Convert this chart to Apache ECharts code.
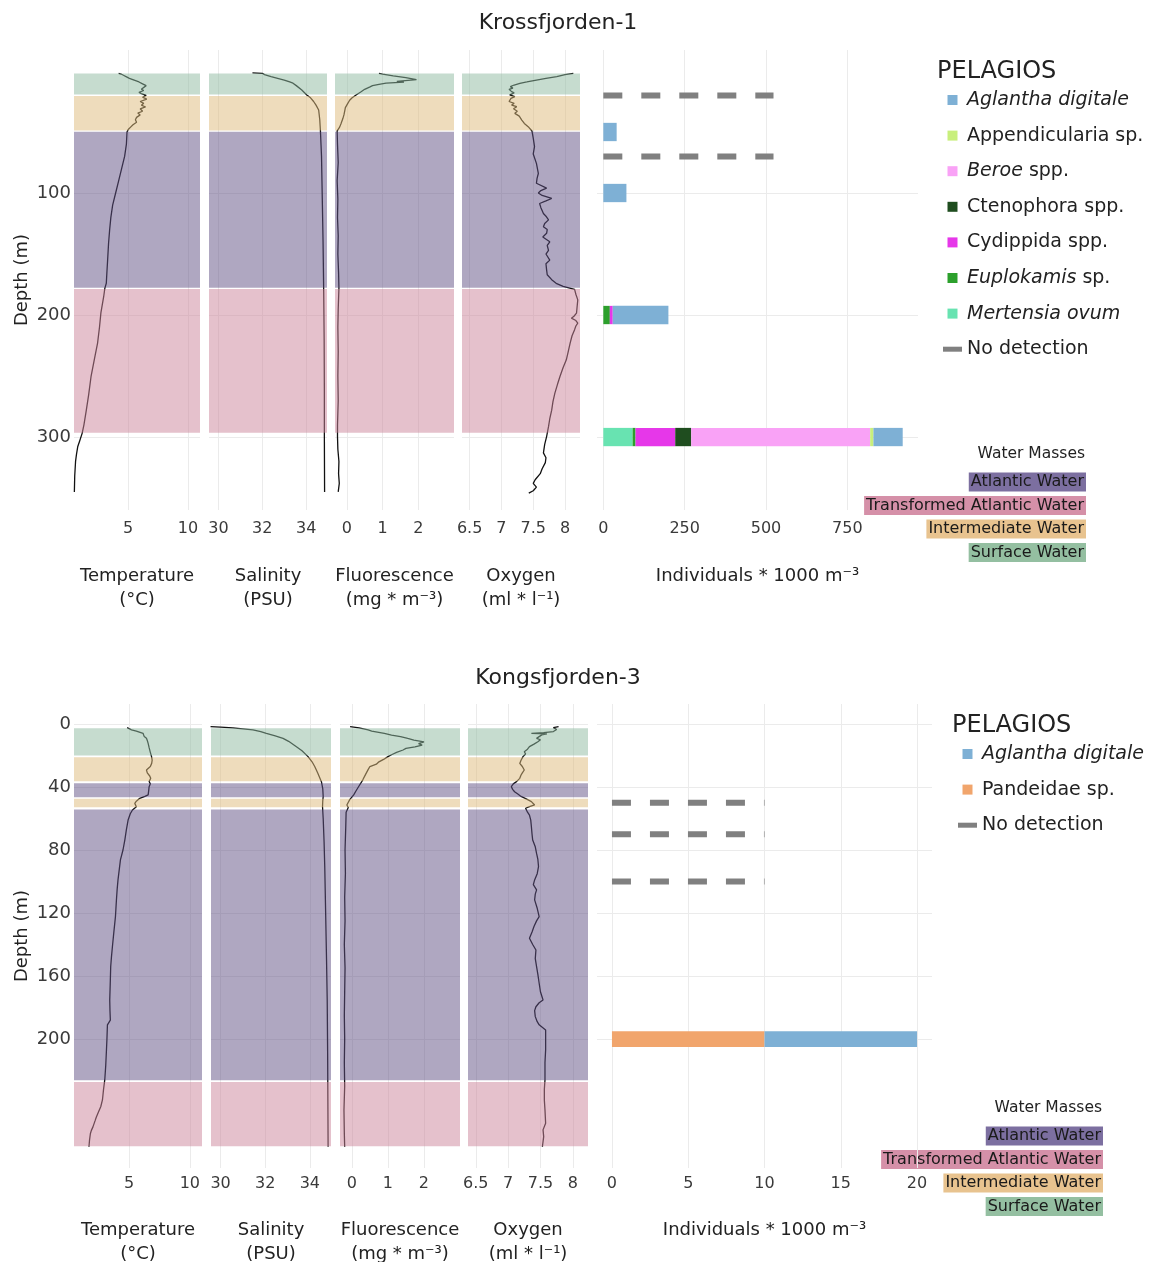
<!DOCTYPE html>
<html><head><meta charset="utf-8">
<script src="https://cdn.jsdelivr.net/npm/echarts@6.0.0/dist/echarts.min.js"></script>
<style>html,body{margin:0;padding:0;background:#fff}#c{width:1150px;height:1262px}</style>
</head><body><div id="c"></div>
<script>
// ---------------- DATA ----------------
// Profiles: [depth (m), value]
const krossTemp = [[1.9,4.2],[2.5,4.4],[3.5,4.6],[5,4.9],[6,5.1],[7.5,5.5],[9,5.9],[10.5,6.2],[12,6.5],[13.5,6.4],[15,6.1],[16,6.3],[17.5,5.9],[18.5,6.1],[20,6.5],[21.5,6.2],[23,6.55],[25,6.0],[26.5,6.3],[28,6.1],[29.5,6.45],[31,6.0],[33,6.2],[34.5,5.8],[36,6.0],[38,5.7],[40,5.6],[42,5.7],[44,5.4],[46,5.2],[48,5.0],[50,4.9],[60,4.85],[70,4.7],[80,4.45],[90,4.2],[100,3.95],[110,3.7],[120,3.55],[130,3.45],[141,3.36],[155,3.28],[165,3.22],[174,3.17],[178,3.05],[185,2.95],[198,2.72],[210,2.6],[223,2.44],[235,2.2],[250,1.9],[265,1.7],[278,1.5],[290,1.3],[297,1.15],[303,0.95],[308,0.78],[314,0.68],[320,0.6],[332,0.53],[345,0.5]];
const krossSal = [[1.6,31.55],[1.9,32.0],[3,32.1],[4.6,32.4],[6,32.7],[7.4,33.0],[9,33.25],[10,33.4],[12,33.55],[15.6,33.8],[17,33.85],[19.7,34.03],[22,34.2],[25,34.34],[28,34.45],[32,34.57],[40,34.62],[49,34.65],[70,34.7],[100,34.73],[140,34.77],[182,34.8],[220,34.82],[264,34.83],[300,34.83],[345,34.84]];
const krossFluor = [[1.9,0.9],[2.5,1.0],[4,1.3],[5.5,1.65],[7,1.95],[7.8,1.9],[8.5,1.4],[9.2,1.6],[10,1.1],[11,0.9],[12,0.72],[13,0.65],[15,0.5],[17,0.4],[19.7,0.26],[22,0.15],[24,0.08],[27,0.02],[30,-0.04],[33,-0.06],[36,-0.08],[39,-0.11],[43,-0.16],[46,-0.2],[49,-0.27],[60,-0.26],[75,-0.24],[90,-0.27],[105,-0.25],[120,-0.26],[135,-0.24],[150,-0.25],[165,-0.23],[178,-0.22],[195,-0.24],[210,-0.25],[230,-0.24],[250,-0.25],[270,-0.24],[290,-0.26],[300,-0.26],[310,-0.25],[320,-0.22],[330,-0.23],[338,-0.21],[345,-0.24]];
const krossOxy = [[1.9,8.13],[3,8.0],[4.6,7.87],[6,7.7],[7.4,7.55],[9,7.4],[10.1,7.29],[11.5,7.2],[12.8,7.14],[14,7.18],[15,7.12],[16.9,7.16],[18,7.2],[19.5,7.13],[21,7.21],[22.5,7.15],[23.8,7.18],[25,7.12],[26.5,7.2],[28,7.16],[29.3,7.24],[31,7.19],[33,7.25],[34.7,7.21],[37,7.28],[40.2,7.32],[43,7.36],[45.6,7.42],[49.2,7.48],[55,7.5],[62,7.52],[68,7.5],[75.7,7.55],[84,7.58],[88,7.56],[92,7.55],[96,7.71],[98,7.62],[100,7.58],[102,7.64],[104.5,7.79],[106.5,7.7],[108.6,7.6],[112,7.62],[116.8,7.66],[119,7.7],[122,7.74],[125,7.68],[127.6,7.66],[130,7.72],[133,7.71],[136,7.65],[140,7.76],[143,7.72],[147,7.74],[150,7.7],[155,7.76],[158,7.7],[163,7.71],[167,7.72],[171,7.79],[174,7.86],[176.6,7.97],[179,8.15],[183,8.17],[187.6,8.2],[193,8.19],[198.5,8.18],[201,8.14],[202.6,8.1],[204.5,8.17],[206.7,8.2],[209,8.17],[212,8.15],[217,8.11],[223,8.08],[230,8.05],[236.7,8.02],[243,7.97],[250.4,7.92],[257,7.88],[264,7.84],[271,7.81],[278,7.79],[285,7.76],[291.5,7.74],[299.6,7.71],[306,7.68],[313,7.66],[317,7.7],[321,7.69],[326,7.64],[330,7.61],[335,7.53],[338,7.5],[339.5,7.47],[341,7.55],[342.5,7.58],[344,7.5],[346,7.43]];

const kongsTemp = [[2.3,4.84],[3,4.9],[3.7,5.2],[4.5,5.6],[5.9,6.15],[7,6.3],[8,6.25],[9.1,6.43],[10.5,6.5],[12.3,6.57],[15,6.65],[18,6.75],[20.7,6.85],[23,6.9],[25,6.86],[27,6.75],[29.2,6.43],[31,6.5],[33,6.7],[34.5,6.78],[36.5,6.65],[38,6.75],[39.8,6.65],[42,6.62],[45,6.57],[46,6.3],[47.2,5.88],[49,5.6],[50.4,5.47],[51.5,5.55],[52.5,5.6],[54.6,5.28],[57,5.1],[61,4.92],[67,4.78],[73.7,4.65],[80,4.5],[86.3,4.29],[92,4.2],[99,4.09],[105,4.02],[111.7,3.96],[117,3.92],[122.3,3.88],[132,3.75],[141.4,3.63],[148,3.55],[154,3.49],[165,3.45],[175.2,3.41],[182,3.43],[188,3.46],[191,3.22],[200,3.18],[207,3.14],[217,3.08],[226,3.0],[232,2.9],[238.7,2.81],[243,2.67],[246,2.5],[249.5,2.31],[252,2.2],[255.8,2.03],[258,1.9],[260,1.82],[264,1.75],[268.4,1.7]];
const kongsSal = [[1.7,29.55],[2.0,30.0],[2.5,30.55],[3.7,31.45],[4.8,31.8],[5.9,32.05],[7.5,32.45],[9.1,32.8],[11,33.05],[14.4,33.4],[17,33.65],[20.7,33.92],[24,34.1],[27,34.22],[31,34.35],[36.6,34.52],[41,34.58],[46,34.6],[49,34.58],[52.5,34.57],[60,34.6],[75,34.64],[90.5,34.67],[120,34.71],[150,34.75],[175,34.78],[210,34.8],[240,34.81],[268.4,34.82]];
const kongsFluor = [[1.7,-0.05],[2.5,0.2],[3.8,0.45],[4.5,0.55],[6,0.9],[7,1.1],[8,1.35],[9.2,1.55],[10.2,1.72],[11.3,2.0],[12.5,1.85],[13.4,1.95],[14.5,1.75],[15.5,1.5],[16.5,1.42],[18,1.24],[19.5,1.1],[20.7,1.0],[22.5,0.88],[24,0.75],[25.5,0.68],[27,0.5],[29,0.45],[32,0.38],[35.6,0.3],[40,0.18],[43,0.1],[45,0.05],[48,-0.06],[51.4,-0.14],[53,-0.1],[56,-0.16],[65,-0.17],[80,-0.19],[95,-0.18],[110,-0.2],[125,-0.19],[140,-0.21],[155,-0.19],[170,-0.2],[185,-0.21],[200,-0.2],[215,-0.21],[230,-0.2],[245,-0.22],[260,-0.21],[268.4,-0.2]];
const kongsOxy = [[1.7,7.78],[2.3,7.7],[2.7,7.67],[3.5,7.75],[4.8,7.7],[5.5,7.55],[5.9,7.36],[6.3,7.6],[6.9,7.52],[8,7.5],[9.1,7.44],[10,7.5],[11.3,7.46],[12.8,7.4],[14.4,7.33],[16,7.3],[17.6,7.25],[19,7.27],[20.7,7.23],[23,7.2],[25,7.18],[27,7.22],[29.2,7.25],[31,7.22],[32.4,7.2],[34.5,7.18],[36.6,7.13],[38,7.08],[39.8,7.05],[41.5,7.07],[43,7.1],[44.5,7.15],[46,7.2],[47.5,7.28],[49.3,7.36],[51.4,7.41],[52.5,7.33],[53.5,7.27],[54.6,7.25],[56,7.3],[57.8,7.33],[61,7.35],[65.2,7.36],[70,7.37],[73.7,7.38],[78,7.42],[82.2,7.44],[86,7.46],[90.5,7.47],[95,7.45],[99,7.41],[102,7.39],[105.3,7.44],[108,7.42],[111.7,7.41],[117,7.45],[122.3,7.48],[125,7.44],[128.6,7.4],[132,7.37],[136,7.33],[140,7.38],[143.5,7.43],[149,7.42],[154,7.44],[159,7.46],[164.6,7.48],[170,7.5],[175.2,7.54],[177,7.48],[179.5,7.43],[182,7.41],[185.8,7.42],[189,7.45],[191,7.48],[194.3,7.58],[200,7.58],[207,7.58],[215,7.57],[226,7.57],[232,7.56],[238.7,7.56],[245,7.57],[253.5,7.58],[257.7,7.54],[262,7.55],[268.4,7.53]];

// Water mass layers: start depth, end depth, type
const waterMassNames = ['Atlantic Water','Transformed Atlantic Water','Intermediate Water','Surface Water'];
const krossBandStart = [1.6, 20, 49.3, 178.3];
const krossBandEnd   = [19.7, 49.2, 178, 297];
const krossBandType  = ['Surface Water','Intermediate Water','Atlantic Water','Transformed Atlantic Water'];
const kongsBandStart = [2.3, 20.8, 37.3, 47.2, 54, 227];
const kongsBandEnd   = [20.3, 36.6, 46.8, 53.1, 226.5, 268.4];
const kongsBandType  = ['Surface Water','Intermediate Water','Atlantic Water','Intermediate Water','Atlantic Water','Transformed Atlantic Water'];

// Gelatinous zooplankton (Individuals * 1000 m^-3)
const krossSpecies = ['Aglantha digitale','Appendicularia sp.','Beroe spp.','Ctenophora spp.','Cydippida spp.','Euplokamis sp.','Mertensia ovum'];
const krossDepths = [50, 100, 200, 300];
const krossAglantha = [41, 71, 171, 90];
const krossAppendicularia = [0, 0, 0, 10];
const krossBeroe = [0, 0, 0, 550];
const krossCtenophora = [0, 0, 0, 49];
const krossCydippida = [0, 0, 9, 122];
const krossEuplokamis = [0, 0, 20, 9];
const krossMertensia = [0, 0, 0, 90];
const krossNoDetectionDepths = [20, 70];
const krossNoDetectionExtent = 523;

const kongsSpecies = ['Aglantha digitale','Pandeidae sp.'];
const kongsDepths = [200];
const kongsAglantha = [10];
const kongsPandeidae = [10];
const kongsNoDetectionDepths = [50, 70, 100];
const kongsNoDetectionExtent = 10;

// Tick labels
const krossDepthTicks = [100, 200, 300];
const kongsDepthTicks = [0, 40, 80, 120, 160, 200];
const tempTicks = [5, 10];
const salTicks = [30, 32, 34];
const fluorTicks = [0, 1, 2];
const oxyTicks = [6.5, 7, 7.5, 8];
const krossCountTicks = [0, 250, 500, 750];
const kongsCountTicks = [0, 5, 10, 15, 20];

// ---------------- STYLE / LAYOUT ----------------
const FONT = '"DejaVu Sans", Verdana, sans-serif';
const GRID_COLOR = '#ebebeb';
const NO_DET = 'No detection';
const SPECIES_COLORS = {
  'Aglantha digitale':'#7eb0d5','Appendicularia sp.':'#c8ef7c','Beroe spp.':'#f9a2f6',
  'Ctenophora spp.':'#1f4d1f','Cydippida spp.':'#e637e9','Euplokamis sp.':'#2ca02c',
  'Mertensia ovum':'#68e3b1','Pandeidae sp.':'#f1a56c'
};
const BAND_COLORS = {'Surface Water':'#8db99f','Intermediate Water':'#ddb979','Atlantic Water':'#5f4f83','Transformed Atlantic Water':'#cb8399'};
const KEY_COLORS = {'Surface Water':'#94bfa1','Intermediate Water':'#e8c38f','Atlantic Water':'#7c6fa0','Transformed Atlantic Water':'#d590a8'};
const ITALIC_PART = {'Aglantha digitale':'Aglantha digitale','Beroe spp.':'Beroe','Euplokamis sp.':'Euplokamis','Mertensia ovum':'Mertensia ovum'};
const X_RANGES = [[0.47, 11.0],[29.57, 34.95],[-0.33, 3.0],[6.38, 8.235]];
const X_TICKS = [tempTicks, salTicks, fluorTicks, oxyTicks];
const AXIS_NAMES = ['Temperature\n(°C)','Salinity\n(PSU)','Fluorescence\n(mg * m⁻³)','Oxygen\n(ml * l⁻¹)','Individuals * 1000 m⁻³'];

const option = {animation:false, backgroundColor:'#fff', grid:[], xAxis:[], yAxis:[], series:[], legend:[], graphic:{elements:[]}};

function bandRender(params, api){
  const cs = params.coordSys;
  const y0 = api.coord([0, api.value(0)])[1];
  const y1 = api.coord([0, api.value(1)])[1];
  const t = waterMassNames[api.value(2)];
  return {type:'rect', shape:{x:cs.x, y:y0+0.5, width:cs.width, height:Math.max(0,y1-y0-1)}, style:{fill:BAND_COLORS[t], opacity:0.5}};
}
function makeBarRender(half){
  return function(params, api){
    const p0 = api.coord([api.value(0), api.value(2) - half]);
    const p1 = api.coord([api.value(1), api.value(2) + half]);
    return {type:'rect', shape:{x:p0[0], y:p0[1], width:p1[0]-p0[0], height:p1[1]-p0[1]}, style:{fill:api.visual('color')}};
  };
}
function stackSegments(depths, order, values){
  const out = {}; order.forEach(n => out[n] = []);
  depths.forEach((d, i) => {
    let acc = 0;
    order.forEach(n => { const v = values[n][i]; if (v > 0) { out[n].push([acc, acc + v, d]); acc += v; } });
  });
  return out;
}
function legendLabel(name){
  const it = ITALIC_PART[name];
  if (!it) return '{n|' + name + '}';
  const rest = name.slice(it.length);
  return '{i|' + it + '}' + (rest ? '{n|' + rest + '}' : '');
}

function addStation(lay, profiles, bandStart, bandEnd, bandType, bar, depthTicks){
  const base = option.grid.length;
  const bands = bandStart.map((s, i) => [s, bandEnd[i], waterMassNames.indexOf(bandType[i])]);
  lay.cols.forEach((c, i) => {
    const isBar = i === 4;
    const xr = isBar ? bar.range : X_RANGES[i];
    const xt = isBar ? bar.ticks : X_TICKS[i];
    option.grid.push({left:c[0], width:c[1], top:lay.top, height:lay.height, containLabel:false, outerBoundsMode:'none'});
    option.xAxis.push({type:'value', gridIndex:base+i, min:xr[0], max:xr[1], position:'bottom',
      axisLine:{show:false}, axisTick:{show:false, customValues:xt},
      axisLabel:{customValues:xt, margin:lay.labelMargin, fontSize:16, fontFamily:FONT, color:'#3a3a3a'},
      splitLine:{show:true, lineStyle:{color:GRID_COLOR, width:1}},
      name:AXIS_NAMES[i], nameLocation:'middle', nameGap:lay.nameGap,
      nameTextStyle:{fontSize:18, fontFamily:FONT, color:'#222', lineHeight:24}});
    option.yAxis.push({type:'value', gridIndex:base+i, inverse:true, min:lay.yMin, max:lay.yMax,
      axisLine:{show:false}, axisTick:{show:false, customValues:depthTicks},
      axisLabel:{show:i===0, customValues:depthTicks, margin:3, fontSize:18, fontFamily:FONT, color:'#3a3a3a'},
      splitLine:{show:true, lineStyle:{color:GRID_COLOR, width:1}},
      name:i===0 ? 'Depth (m)' : '', nameLocation:'middle', nameGap:43, nameRotate:90,
      nameTextStyle:{fontSize:18, fontFamily:FONT, color:'#222'}});
  });
  profiles.forEach((arr, i) => {
    option.series.push({type:'line', xAxisIndex:base+i, yAxisIndex:base+i, data:arr.map(p => [p[1], p[0]]),
      symbol:'none', silent:true, z:2, lineStyle:{color:'#111', width:1.3}});
    option.series.push({type:'custom', xAxisIndex:base+i, yAxisIndex:base+i, data:bands, renderItem:bandRender, silent:true, z:3});
  });
  const order = bar.species.slice().reverse();
  const segs = stackSegments(bar.depths, order, bar.values);
  order.forEach(n => {
    option.series.push({type:'custom', name:n, xAxisIndex:base+4, yAxisIndex:base+4, data:segs[n],
      encode:{x:[0,1], y:2}, itemStyle:{color:SPECIES_COLORS[n]}, renderItem:makeBarRender(lay.halfBar), silent:true, z:3});
  });
  bar.noDet.forEach(d => {
    option.series.push({type:'line', name:NO_DET, xAxisIndex:base+4, yAxisIndex:base+4,
      data:[[0, d],[bar.noDetExtent, d]], symbol:'none', silent:true, z:3,
      itemStyle:{color:'#808080'}, lineStyle:{color:'#808080', width:6, type:[19,19], cap:'butt'}});
  });
  const legendNames = bar.species.concat([NO_DET]);
  option.legend.push({data:legendNames.map(n => ({name:n, icon: n === NO_DET ? 'path://M0,0H19V5H0Z' : 'path://M0,0H10V10H0Z'})),
    left:lay.legendLeft, top:lay.legendTop, orient:'vertical', itemWidth:19, itemHeight:10, itemGap:13.6,
    selectedMode:false, symbolKeepAspect:true, formatter:legendLabel,
    textStyle:{fontSize:19, fontFamily:FONT, color:'#222', lineHeight:22,
      rich:{i:{fontStyle:'italic', fontSize:19, fontFamily:FONT, color:'#222', lineHeight:22},
            n:{fontSize:19, fontFamily:FONT, color:'#222', lineHeight:22}}}});
  const g = option.graphic.elements;
  g.push({type:'text', style:{text:lay.title, x:558, y:lay.titleY, align:'center', textAlign:'center', verticalAlign:'middle', textVerticalAlign:'middle', font:'22px ' + FONT, fill:'#222'}});
  g.push({type:'text', style:{text:'PELAGIOS', x:lay.legendLeft - 1, y:lay.pelY, align:'left', textAlign:'left', verticalAlign:'middle', textVerticalAlign:'middle', font:'24px ' + FONT, fill:'#222'}});
  g.push({type:'text', style:{text:'Water Masses', x:lay.wmRight, y:lay.wmY, align:'right', textAlign:'right', verticalAlign:'middle', textVerticalAlign:'middle', font:'15.5px ' + FONT, fill:'#222'}});
  waterMassNames.forEach((n, i) => {
    g.push({type:'text', style:{text:n, x:lay.wmRight + 1, y:lay.wmY + 28 + i * 23.5, align:'right', textAlign:'right', verticalAlign:'middle', textVerticalAlign:'middle',
      font:'16px ' + FONT, fill:'#1a1a1a', backgroundColor:KEY_COLORS[n], textBackgroundColor:KEY_COLORS[n], padding:[2,2,1,2], textPadding:[2,2,1,2]}});
  });
}

addStation({top:50, height:460, cols:[[74,126],[209,118],[335,119],[462,118],[597,321]], yMin:-17.2, yMax:359.8,
    labelMargin:11, nameGap:54, halfBar:7.5, legendLeft:938, legendTop:84, pelY:72, title:'Krossfjorden-1', titleY:23, wmRight:1085, wmY:454},
  [krossTemp, krossSal, krossFluor, krossOxy], krossBandStart, krossBandEnd, krossBandType,
  {range:[-19.4, 967], ticks:krossCountTicks, species:krossSpecies, depths:krossDepths,
   values:{'Aglantha digitale':krossAglantha,'Appendicularia sp.':krossAppendicularia,'Beroe spp.':krossBeroe,'Ctenophora spp.':krossCtenophora,
           'Cydippida spp.':krossCydippida,'Euplokamis sp.':krossEuplokamis,'Mertensia ovum':krossMertensia},
   noDet:krossNoDetectionDepths, noDetExtent:krossNoDetectionExtent}, krossDepthTicks);

addStation({top:704, height:464, cols:[[74,128],[211,120],[340,120],[468,120],[597,335]], yMin:-12.7, yMax:281.9,
    labelMargin:8, nameGap:50, halfBar:5, legendLeft:953, legendTop:738, pelY:726, title:'Kongsfjorden-3', titleY:678, wmRight:1102, wmY:1108},
  [kongsTemp, kongsSal, kongsFluor, kongsOxy], kongsBandStart, kongsBandEnd, kongsBandType,
  {range:[-0.98, 20.98], ticks:kongsCountTicks, species:kongsSpecies, depths:kongsDepths,
   values:{'Aglantha digitale':kongsAglantha,'Pandeidae sp.':kongsPandeidae},
   noDet:kongsNoDetectionDepths, noDetExtent:kongsNoDetectionExtent}, kongsDepthTicks);

const chart = echarts.init(document.getElementById('c'), null, {renderer:'canvas', width:1150, height:1262});
chart.setOption(option);
</script></body></html>
